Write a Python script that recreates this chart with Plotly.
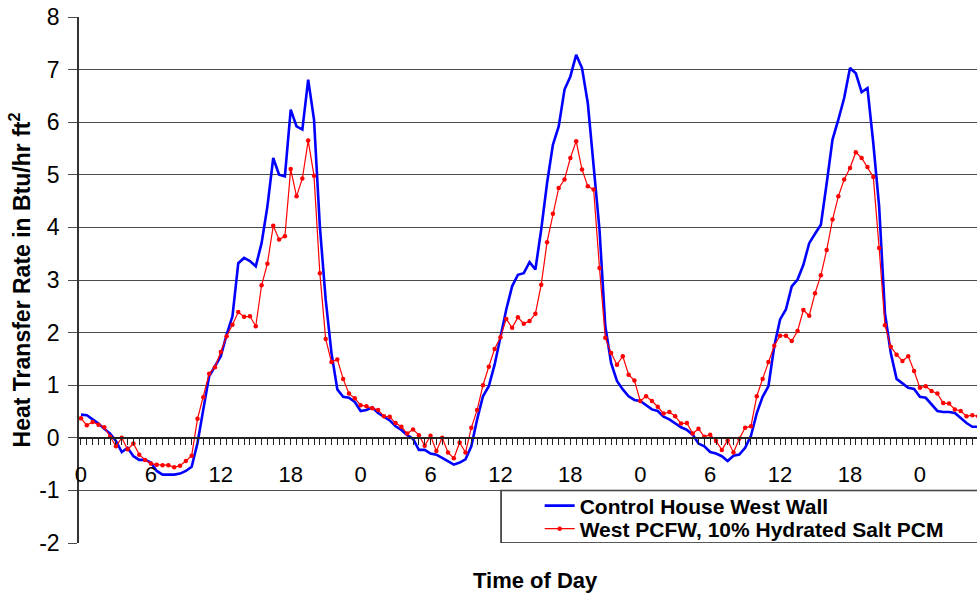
import numpy as np
import plotly.graph_objects as go

# time in hours since start (half-hour steps)
hours = [i * 0.5 for i in range(155)]

control_west_wall = [
    0.44, 0.43, 0.35, 0.27, 0.17, 0.08, -0.06, -0.27, -0.19, -0.35,
    -0.42, -0.42, -0.47, -0.63, -0.70, -0.70, -0.70, -0.68, -0.63, -0.55,
    -0.10, 0.54, 1.17, 1.36, 1.55, 1.96, 2.31, 3.32, 3.42, 3.36,
    3.26, 3.70, 4.40, 5.32, 5.00, 4.97, 6.24, 5.92, 5.86, 6.81,
    6.05, 4.02, 2.63, 1.61, 0.92, 0.78, 0.76, 0.68, 0.51, 0.53,
    0.58, 0.47, 0.40, 0.33, 0.22, 0.15, 0.05, -0.02, -0.23, -0.23,
    -0.30, -0.32, -0.38, -0.44, -0.51, -0.47, -0.41, -0.16, 0.35, 0.79,
    0.98, 1.39, 1.90, 2.44, 2.88, 3.10, 3.13, 3.34, 3.20, 3.96,
    4.84, 5.57, 5.92, 6.62, 6.87, 7.28, 7.03, 6.36, 5.16, 3.96,
    2.12, 1.42, 1.08, 0.92, 0.79, 0.72, 0.70, 0.62, 0.54, 0.51,
    0.40, 0.35, 0.28, 0.20, 0.15, 0.06, -0.11, -0.16, -0.27, -0.30,
    -0.35, -0.44, -0.34, -0.32, -0.19, 0.04, 0.47, 0.78, 0.98, 1.74,
    2.25, 2.44, 2.88, 3.01, 3.29, 3.70, 3.88, 4.05, 4.84, 5.67,
    6.05, 6.46, 7.03, 6.93, 6.57, 6.65, 5.60, 4.40, 2.37, 1.61,
    1.12, 1.04, 0.95, 0.93, 0.78, 0.76, 0.63, 0.51, 0.49, 0.49,
    0.47, 0.38, 0.28, 0.21, 0.21,
]

pcfw_west = [
    0.37, 0.24, 0.30, 0.25, 0.20, 0.02, -0.16, 0.00, -0.22, -0.11,
    -0.32, -0.42, -0.49, -0.51, -0.52, -0.52, -0.56, -0.53, -0.44, -0.34,
    0.36, 0.77, 1.22, 1.34, 1.63, 1.93, 2.15, 2.39, 2.30, 2.31,
    2.12, 2.90, 3.31, 4.03, 3.77, 3.83, 5.11, 4.59, 4.93, 5.65,
    4.98, 3.13, 1.88, 1.44, 1.49, 1.12, 0.84, 0.75, 0.62, 0.60,
    0.56, 0.53, 0.41, 0.40, 0.28, 0.21, 0.08, 0.16, 0.05, -0.15,
    0.04, -0.25, 0.00, -0.28, -0.39, -0.09, -0.28, 0.19, 0.53, 1.00,
    1.35, 1.69, 1.91, 2.26, 2.09, 2.29, 2.17, 2.22, 2.36, 2.91,
    3.72, 4.26, 4.75, 4.91, 5.32, 5.64, 5.10, 4.78, 4.72, 3.23,
    1.90, 1.61, 1.39, 1.55, 1.20, 1.09, 0.70, 0.79, 0.70, 0.59,
    0.46, 0.49, 0.41, 0.27, 0.28, 0.08, 0.17, 0.02, 0.06, -0.06,
    -0.23, -0.05, -0.28, -0.02, 0.19, 0.22, 0.79, 1.12, 1.44, 1.75,
    1.94, 1.94, 1.84, 2.03, 2.43, 2.32, 2.75, 3.09, 3.57, 4.15,
    4.59, 4.91, 5.13, 5.43, 5.32, 5.15, 4.96, 3.61, 2.14, 1.73,
    1.58, 1.46, 1.55, 1.27, 0.95, 0.98, 0.89, 0.84, 0.66, 0.65,
    0.54, 0.51, 0.41, 0.43, 0.41,
]

tick_positions = [0, 6, 12, 18, 24, 30, 36, 42, 48, 54, 60, 66, 72]
tick_labels = ["0", "6", "12", "18", "0", "6", "12", "18", "0", "6", "12", "18", "0"]
y_ticks = [-2, -1, 0, 1, 2, 3, 4, 5, 6, 7, 8]
y_tick_labels = ["-2", "-1", "0", "1", "2", "3", "4", "5", "6", "7", "8"]

FONT = "Arial, Liberation Sans, sans-serif"
GRID = "#4a4a4a"

fig = go.Figure()
fig.add_trace(go.Scatter(
    x=hours, y=control_west_wall, mode="lines",
    name="Control House West Wall",
    line=dict(color="#0000FF", width=2.6),
    legend="legend",
))
fig.add_trace(go.Scatter(
    x=hours, y=pcfw_west, mode="lines+markers",
    name="West PCFW, 10% Hydrated Salt PCM",
    line=dict(color="#FF0000", width=1.2),
    marker=dict(color="#FF0000", size=4.5),
    legend="legend2",
))

# legend box
fig.add_shape(type="rect", xref="paper", yref="y", x0=0.47, x1=1.02, y0=-2, y1=-1,
              line=dict(color="#222222", width=1.5), fillcolor="white", layer="below")

legend_common = dict(
    xanchor="left", yanchor="middle",
    bgcolor="rgba(0,0,0,0)", borderwidth=0,
    font=dict(family=FONT, size=21, color="black", weight="bold"),
    itemwidth=30,
)

fig.update_layout(
    width=977, height=596,
    margin=dict(l=79, r=0, t=17, b=53),
    paper_bgcolor="white", plot_bgcolor="white",
    font=dict(family=FONT, color="black"),
    showlegend=True,
    legend=dict(x=0.513, y=(543 - 506) / 526, **legend_common),
    legend2=dict(x=0.513, y=(543 - 529) / 526, **legend_common),
    xaxis=dict(
        range=[-0.17, 76.9],
        tickmode="array", tickvals=tick_positions, ticktext=tick_labels,
        ticks="outside", ticklen=6, tickcolor="#222", tickwidth=1.3,
        minor=dict(tickmode="linear", tick0=0, dtick=0.5, ticks="outside",
                   ticklen=6, tickcolor="#222", tickwidth=1.3, showgrid=False),
        showgrid=False, zeroline=False,
        showline=True, linecolor="#222", linewidth=1.5,
        anchor="free", position=0.2,
        tickfont=dict(family=FONT, size=22, color="black"),
        ticklabelstandoff=11,
    ),
    yaxis=dict(
        range=[-2, 8], tickmode="array", tickvals=y_ticks, ticktext=y_tick_labels,
        ticks="outside", ticklen=9, tickcolor=GRID, tickwidth=1.3,
        showgrid=True, gridcolor=GRID, gridwidth=1.3,
        zeroline=False, showline=True, linecolor="#333", linewidth=1.5,
        tickfont=dict(family=FONT, size=23, color="black"),
        ticklabelstandoff=4,
        title=dict(text="Heat Transfer Rate in Btu/hr ft<sup>2</sup>",
                   font=dict(family=FONT, size=23, color="black", weight="bold"),
                   standoff=2),
        automargin=False,
    ),
)

fig.add_annotation(
    text="<b>Time of Day</b>", xref="paper", yref="paper",
    x=(535 - 79) / 898, y=(543 - 580) / 526, xanchor="center", yanchor="middle",
    showarrow=False, font=dict(family=FONT, size=22, color="black"),
)

fig.write_html("out.html")
